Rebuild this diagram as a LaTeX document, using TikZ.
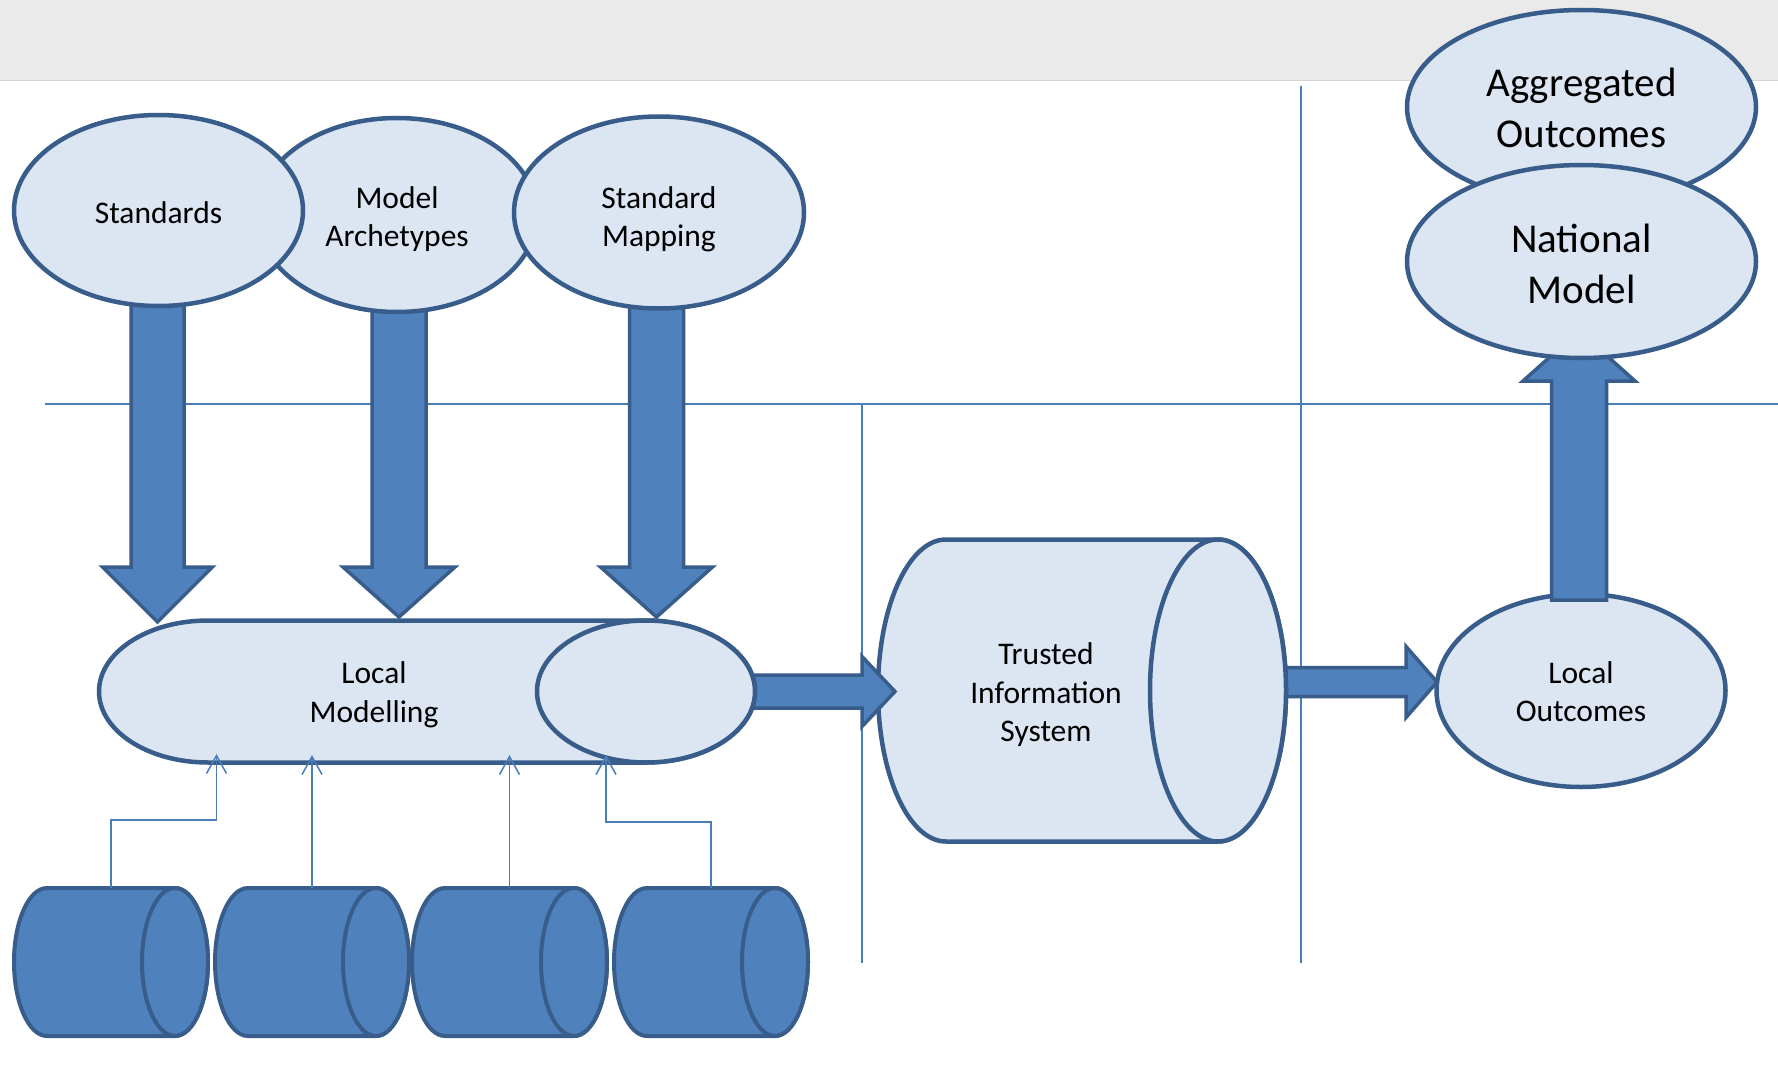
\documentclass[tikz,border=0pt]{standalone}
\usepackage{fontspec}
\setmainfont{Carlito}
\usetikzlibrary{arrows.meta,shapes.geometric,calc}

\definecolor{paleblue}{HTML}{DCE6F2}
\definecolor{edgeblue}{HTML}{385D8A}
\definecolor{midblue}{HTML}{4F81BD}
\definecolor{lineblue}{HTML}{4A7EBB}
\definecolor{bandgrey}{HTML}{EAEAEA}
\definecolor{bandline}{HTML}{D5D5D5}

\newcommand\labelfont{\fontsize{31.5}{38.5}\selectfont}
\newcommand\biglabelfont{\fontsize{41}{50.5}\selectfont}

% horizontal cylinder: left, right, centre y, half height, end radius, style
\newcommand\hcyl[6]{%
  \path[#6] (#1+#5,#3-#4) -- (#2-#5,#3-#4)
    arc[start angle=270, end angle=450, x radius=#5, y radius=#4]
    -- (#1+#5,#3+#4)
    arc[start angle=90, end angle=270, x radius=#5, y radius=#4] -- cycle;
  \path[#6] (#2-#5,#3) ellipse[x radius=#5, y radius=#4];
}

% block arrows: tail, tip, shaft half width, head half width, head length
\newcommand\blockdown[5]{%
  \draw[blockarrow] let \p1=(#1), \p2=(#2) in
    (\x2-#3pt,\y1) -- (\x2-#3pt,\y2+#5pt) -- (\x2-#4pt,\y2+#5pt) -- (\x2,\y2)
    -- (\x2+#4pt,\y2+#5pt) -- (\x2+#3pt,\y2+#5pt) -- (\x2+#3pt,\y1) -- cycle;}
\newcommand\blockup[5]{%
  \draw[blockarrow] let \p1=(#1), \p2=(#2) in
    (\x2-#3pt,\y1) -- (\x2-#3pt,\y2-#5pt) -- (\x2-#4pt,\y2-#5pt) -- (\x2,\y2)
    -- (\x2+#4pt,\y2-#5pt) -- (\x2+#3pt,\y2-#5pt) -- (\x2+#3pt,\y1) -- cycle;}
\newcommand\blockright[5]{%
  \draw[blockarrow] let \p1=(#1), \p2=(#2) in
    (\x1,\y2+#3pt) -- (\x2-#5pt,\y2+#3pt) -- (\x2-#5pt,\y2+#4pt) -- (\x2,\y2)
    -- (\x2-#5pt,\y2-#4pt) -- (\x2-#5pt,\y2-#3pt) -- (\x1,\y2-#3pt) -- cycle;}

\pgfdeclarelayer{guides}
\pgfdeclarelayer{lowA}
\pgfdeclarelayer{lowB}
\pgfdeclarelayer{lowC}
\pgfdeclarelayer{lowD}
\pgfdeclarelayer{lowE}
\pgfsetlayers{guides,lowA,lowB,lowC,lowD,lowE,main}

\begin{document}
\begin{tikzpicture}[x=1pt, y=-1pt,
  bubble/.style={ellipse, draw=edgeblue, fill=paleblue, line width=4.5pt,
    inner sep=0pt, outer sep=0pt},
  cylbox/.style={rectangle, draw=none, inner sep=0pt, outer sep=0pt},
  textlabel/.style={align=center, inner sep=0pt, font=\labelfont},
  bigtextlabel/.style={textlabel, font=\biglabelfont},
  palecyl/.style={draw=edgeblue, fill=paleblue, line width=4.5pt},
  darkcyl/.style={draw=edgeblue, fill=midblue, line width=4pt},
  blockarrow/.style={draw=edgeblue, fill=midblue, line width=3.5pt, line join=miter},
  guideline/.style={draw=lineblue, line width=2pt},
  feed/.style={draw=lineblue, line width=1.5pt, -{Straight Barb[length=18pt, width=20pt]}}]

\useasboundingbox (0,0) rectangle (1778,1070);

% page, title band and zone dividers
\begin{pgfonlayer}{guides}
  \fill[white] (0,0) rectangle (1778,1070);
  \fill[bandgrey] (0,0) rectangle (1778,80);
  \draw[bandline, line width=1.5pt] (0,80.5) -- (1778,80.5);
  \draw[guideline] (45,404) -- (1778,404);
  \draw[guideline] (1301,86) -- (1301,963);
  \draw[guideline] (862,404) -- (862,963);
\end{pgfonlayer}

% local outcomes
\begin{pgfonlayer}{lowA}
  \node[bubble, minimum width=289pt, minimum height=193pt] (lo) at (1581,690.5) {};
  \node[textlabel] (lotext) at ($(lo.center)+(0,1.2)$) {Local\\Outcomes};
\end{pgfonlayer}

% trusted information system
\begin{pgfonlayer}{lowB}
  \node[cylbox, minimum width=408pt, minimum height=302pt] (tis) at (1082,690.5) {};
  \hcyl{878}{1286}{690.5}{151}{68}{palecyl}
  \node[textlabel] (tistext) at (1046,695) {Trusted\\Information\\System};
\end{pgfonlayer}

\begin{pgfonlayer}{lowA}
  \coordinate (r2tip) at (1437,682);
  \blockright{tis.center}{r2tip}{14.5}{35.5}{31}
\end{pgfonlayer}

% local modelling
\begin{pgfonlayer}{lowD}
  \node[cylbox, minimum width=656pt, minimum height=142pt] (lm) at (427,691.5) {};
  \hcyl{99}{755}{691.5}{71}{109}{palecyl}
  \node[textlabel] (lmtext) at (374,694.8) {Local\\Modelling};
\end{pgfonlayer}

\begin{pgfonlayer}{lowC}
  \coordinate (r1tip) at (895,691.5);
  \blockright{lm.center}{r1tip}{16.5}{35}{33}
\end{pgfonlayer}

% inputs at the top
\node[bubble, minimum width=280pt, minimum height=194pt] (arch) at (397,215) {};
\node[textlabel] (archtext) at ($(arch.center)+(0,4)$) {Model\\Archetypes};
\node[bubble, minimum width=289pt, minimum height=191pt] (std) at (158.5,210.5) {};
\node[textlabel] (stdtext) at ($(std.center)+(0,2.5)$) {Standards};
\node[bubble, minimum width=290pt, minimum height=192pt] (map) at (659,212.5) {};
\node[textlabel] (maptext) at ($(map.center)+(0,6.8)$) {Standard\\Mapping};

% national level
\node[bubble, minimum width=349pt, minimum height=194pt] (agg) at (1581.5,107) {};
\node[bigtextlabel] (aggtext) at ($(agg.center)+(0,0.8)$) {Aggregated\\Outcomes};
\node[bubble, minimum width=349pt, minimum height=193pt] (nat) at (1581.5,261.5) {};
\node[bigtextlabel] (nattext) at ($(nat.center)+(0,2.5)$) {National\\Model};

\begin{pgfonlayer}{lowE}
  \coordinate (d1tip) at (157.5,622);
  \coordinate (d2tip) at (399,617);
  \coordinate (d3tip) at (656.5,617);
  \blockdown{std.center}{d1tip}{26.5}{55}{55}
  \blockdown{arch.center}{d2tip}{27}{56}{50}
  \blockdown{map.center}{d3tip}{27}{56}{50}
  \coordinate (uptip) at (1579,331);
  \blockup{$(lo.north)+(0,6)$}{uptip}{27.5}{56}{50}
\end{pgfonlayer}

% local data stores
\node[cylbox, minimum width=194pt, minimum height=148pt] (c1) at (111,962) {};
\node[cylbox, minimum width=194pt, minimum height=148pt] (c2) at (312,962) {};
\node[cylbox, minimum width=195pt, minimum height=148pt] (c3) at (509.5,962) {};
\node[cylbox, minimum width=194pt, minimum height=148pt] (c4) at (711,962) {};
\hcyl{14}{208}{962}{74}{33}{darkcyl}
\hcyl{215}{409}{962}{74}{33}{darkcyl}
\hcyl{412}{607}{962}{74}{33}{darkcyl}
\hcyl{614}{808}{962}{74}{33}{darkcyl}

% feeds into local modelling
\coordinate (in1) at (216.5,754);
\coordinate (in2) at (312,755);
\coordinate (in3) at (509.5,755);
\coordinate (in4) at (606,755);
\draw[feed] (c1.north) -- ++(0,-68) -| (in1);
\draw[feed] (c2.north) -- (in2);
\draw[feed] (c3.north) -- (in3);
\draw[feed] (c4.north) -- ++(0,-66) -| (in4);

\end{tikzpicture}
\end{document}
